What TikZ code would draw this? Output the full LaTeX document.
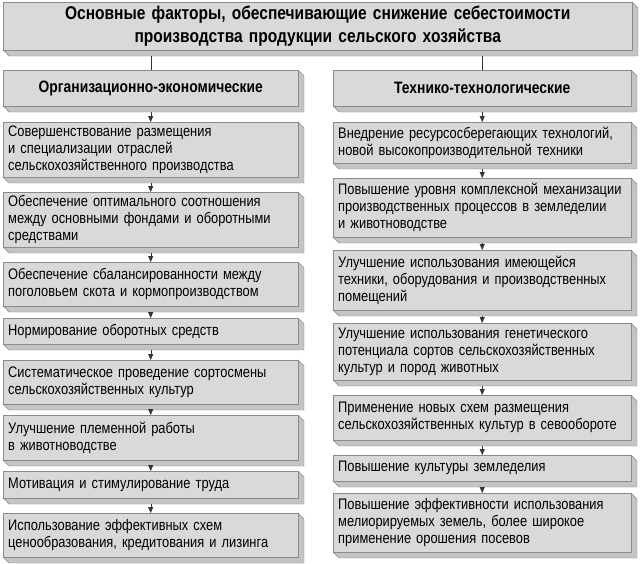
\documentclass[tikz,border=0pt]{standalone}
\usepackage{fontspec}
\setmainfont[FakeStretch=0.84]{Liberation Sans}
\usetikzlibrary{arrows.meta}
\definecolor{facec}{HTML}{D9D9D9}
\definecolor{sidec}{HTML}{C4C4C4}
\definecolor{linec}{HTML}{8A8A8A}
\tikzset{
 box/.style={fill=facec,draw=linec,anchor=north west,align=left,inner xsep=5pt,inner ysep=0pt,font=\fontsize{15.3}{17}\selectfont},
 hbox/.style={box,align=center,font=\bfseries\fontsize{16.5}{18}\selectfont},
 tbox/.style={box,align=center,font=\bfseries\fontsize{18.5}{23}\selectfont},
 arr/.style={draw=black!80,-{Triangle[length=6pt,width=5pt]}},
 ln/.style={draw=black!80}
}
\newcommand\bx[7]{%
 \fill[sidec,draw=linec] ({#4pt},{-#3pt}) -- ++(6pt,-6pt) -- ({#4pt+6pt},{-#5pt-6pt}) -- ({#2pt+6pt},{-#5pt-6pt}) -- ({#2pt},{-#5pt}) -- ({#4pt},{-#5pt}) -- cycle;
 \node[#7,minimum width={(#4-#2)*1pt},minimum height={(#5-#3)*1pt},text width={(#4-#2-10)*1pt}] (#1) at ({#2pt},{-#3pt}) {#6};}
\begin{document}
\begin{tikzpicture}[x=1pt,y=1pt]
\useasboundingbox (0,0) rectangle (642,-563);
\bx{t}{3}{2}{632}{50}{Основные факторы, обеспечивающие снижение себестоимости\\производства продукции сельского хозяйства}{tbox}
\bx{h1}{3}{70}{298}{106}{Организационно-экономические}{hbox}
\bx{h2}{333}{70}{631}{106}{Технико-технологические}{hbox}
\bx{a1}{3}{122}{298}{177}{Совершенствование размещения\\и специализации отраслей\\сельскохозяйственного производства}{box}
\bx{a2}{3}{192}{298}{247}{Обеспечение оптимального соотношения\\между основными фондами и оборотными\\средствами}{box}
\bx{a3}{3}{262}{298}{306}{Обеспечение сбалансированности между\\поголовьем скота и кормопроизводством}{box}
\bx{a4}{3}{318}{298}{344}{Нормирование оборотных средств}{box}
\bx{a5}{3}{360}{298}{404}{Систематическое проведение сортосмены\\сельскохозяйственных культур}{box}
\bx{a6}{3}{415}{298}{460}{Улучшение племенной работы\\в животноводстве}{box}
\bx{a7}{3}{471}{298}{498}{Мотивация и стимулирование труда}{box}
\bx{a8}{3}{513}{298}{557}{Использование эффективных схем\\ценообразования, кредитования и лизинга}{box}
\bx{b1}{333}{122}{631}{163}{Внедрение ресурсосберегающих технологий,\\новой высокопроизводительной техники}{box}
\bx{b2}{333}{178}{631}{237}{Повышение уровня комплексной механизации\\производственных процессов в земледелии\\и животноводстве}{box}
\bx{b3}{333}{250}{631}{310}{Улучшение использования имеющейся\\техники, оборудования и производственных\\помещений}{box}
\bx{b4}{333}{323}{631}{380}{Улучшение использования генетического\\потенциала сортов сельскохозяйственных\\культур и пород животных}{box}
\bx{b5}{333}{395}{631}{440}{Применение новых схем размещения\\сельскохозяйственных культур в севообороте}{box}
\bx{b6}{333}{455}{631}{481}{Повышение культуры земледелия}{box}
\bx{b7}{333}{493}{631}{552}{Повышение эффективности использования\\мелиорируемых земель, более широкое\\применение орошения посевов}{box}
\draw[ln] ([yshift=-6pt]t.south -| h1.north) -- (h1.north);
\draw[ln] ([yshift=-6pt]t.south -| h2.north) -- (h2.north);
\foreach \p/\q in {h1/a1,a1/a2,a2/a3,a3/a4,a4/a5,a5/a6,a6/a7,a7/a8,h2/b1,b1/b2,b2/b3,b3/b4,b4/b5,b5/b6,b6/b7}
 \draw[arr] ([yshift=-6pt]\p.south) -- (\q.north);
\end{tikzpicture}
\end{document}
